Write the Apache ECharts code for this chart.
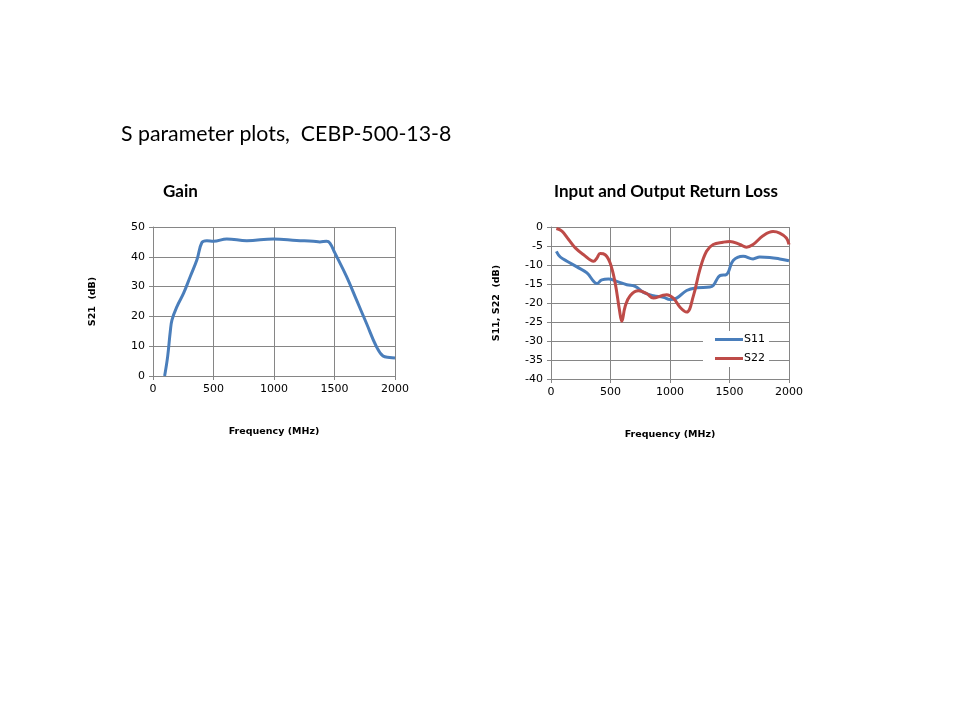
<!DOCTYPE html>
<html><head><meta charset="utf-8">
<script src="https://cdn.jsdelivr.net/npm/echarts@6/dist/echarts.min.js"></script>
<style>html,body{margin:0;padding:0;background:#fff}#c{width:960px;height:720px}</style>
</head><body><div id="c"></div>
<script>
const gainFreq = [96,121,143,157,198,253,308,363,404,445,500,610,775,995,1187,1324,1379,1434,1462,1503,1599,1681,1764,1846,1901,1956,2000];
const gainDb   = [0,6.5,15,18.8,23.3,27.8,33.4,39,44.8,45.4,45.2,46,45.4,46,45.5,45.2,45,45.2,44.6,41.3,33.4,25.6,17.7,9.9,6.7,6.2,6];
const s11Freq = [45,78,134,218,302,358,385,427,483,553,637,707,777,860,944,1000,1056,1140,1223,1335,1363,1419,1475,1531,1615,1698,1754,1838,1922,2000];
const s11Db   = [-6.4,-7.9,-9,-10.5,-12.1,-14.3,-14.9,-13.9,-13.7,-14.3,-15.2,-15.6,-17.2,-18.1,-18.5,-19.1,-18.7,-16.7,-16,-15.8,-15.4,-12.8,-12.5,-8.8,-7.7,-8.4,-7.9,-8,-8.4,-8.9];
const s22Freq = [45,92,148,204,274,358,385,413,455,497,539,575,595,623,665,735,804,860,930,972,1028,1084,1140,1196,1251,1307,1363,1447,1503,1587,1642,1698,1782,1866,1922,1978,2000];
const s22Db   = [-0.4,-1.1,-3.3,-5.5,-7.3,-9,-8.2,-7,-7.3,-9.5,-14.7,-21.8,-24.8,-20.9,-18.1,-16.8,-17.5,-18.7,-18.1,-17.8,-18.7,-21.1,-22.4,-18.2,-11.2,-6.4,-4.6,-4,-3.8,-4.6,-5.3,-4.6,-2.3,-1.2,-1.6,-2.9,-4.6];

const pair = (xs, ys) => xs.map((x,i)=>[x, ys[i]]);
const grayLine = {lineStyle:{color:'#868686',width:1}};
const tickFont = {fontFamily:'DejaVu Sans',fontSize:11,color:'#000',formatter:v=>String(v)};
const nameFont = {fontFamily:'DejaVu Sans',fontWeight:'bold',fontSize:9.5,color:'#000'};
function xAx(gi){return {gridIndex:gi,type:'value',min:0,max:2000,interval:500,
  axisLine:{show:true,onZero:false,...grayLine},axisTick:{show:true,length:4,...grayLine},
  splitLine:{show:true,...grayLine},axisLabel:{...tickFont,margin:8},
  name:'Frequency (MHz)',nameLocation:'middle',nameGap:51,nameTextStyle:nameFont};}
function yAx(gi,min,max,interval,name,gap){return {gridIndex:gi,type:'value',min:min,max:max,interval:interval,
  axisLine:{show:true,...grayLine},axisTick:{show:true,length:4,...grayLine},
  splitLine:{show:true,...grayLine},axisLabel:{...tickFont,margin:8},
  name:name,nameLocation:'middle',nameGap:gap,nameRotate:90,nameTextStyle:nameFont};}

const chart = echarts.init(document.getElementById('c'));
chart.setOption({
  backgroundColor:'#fff',
  animation:false,
  title:[
    {text:'S parameter plots,  CEBP-500-13-8',left:121,top:124,padding:0,textStyle:{fontFamily:'Lato',fontWeight:'normal',fontSize:21.3,color:'#000'}},
    {text:'Gain',left:163,top:183,padding:0,textStyle:{fontFamily:'Lato',fontWeight:'bold',fontSize:17,color:'#000'}},
    {text:'Input and Output Return Loss',left:554,top:183,padding:0,textStyle:{fontFamily:'Lato',fontWeight:'bold',fontSize:17,color:'#000'}}
  ],
  grid:[
    {left:153,top:227,width:242,height:149},
    {left:551,top:227,width:238,height:152}
  ],
  xAxis:[xAx(0),xAx(1)],
  yAxis:[yAx(0,0,50,10,'S21  (dB)',55),yAx(1,-40,0,5,'S11, S22  (dB)',49)],
  legend:{left:703,top:331,orient:'vertical',itemWidth:28,itemHeight:3,itemGap:8,
    backgroundColor:'#fff',padding:[3,4,3,12],
    icon:'rect',textStyle:{fontFamily:'DejaVu Sans',fontSize:11,color:'#000',padding:[0,0,0,-4]},
    data:['S11','S22']},
  series:[
    {type:'line',xAxisIndex:0,yAxisIndex:0,data:pair(gainFreq,gainDb),smooth:0.4,showSymbol:false,
      lineStyle:{color:'#4A7EBB',width:3},itemStyle:{color:'#4A7EBB'}},
    {name:'S11',type:'line',xAxisIndex:1,yAxisIndex:1,data:pair(s11Freq,s11Db),smooth:0.4,showSymbol:false,
      lineStyle:{color:'#4A7EBB',width:3},itemStyle:{color:'#4A7EBB'}},
    {name:'S22',type:'line',xAxisIndex:1,yAxisIndex:1,data:pair(s22Freq,s22Db),smooth:0.4,showSymbol:false,
      lineStyle:{color:'#BE4B48',width:3},itemStyle:{color:'#BE4B48'}}
  ]
});
</script></body></html>
